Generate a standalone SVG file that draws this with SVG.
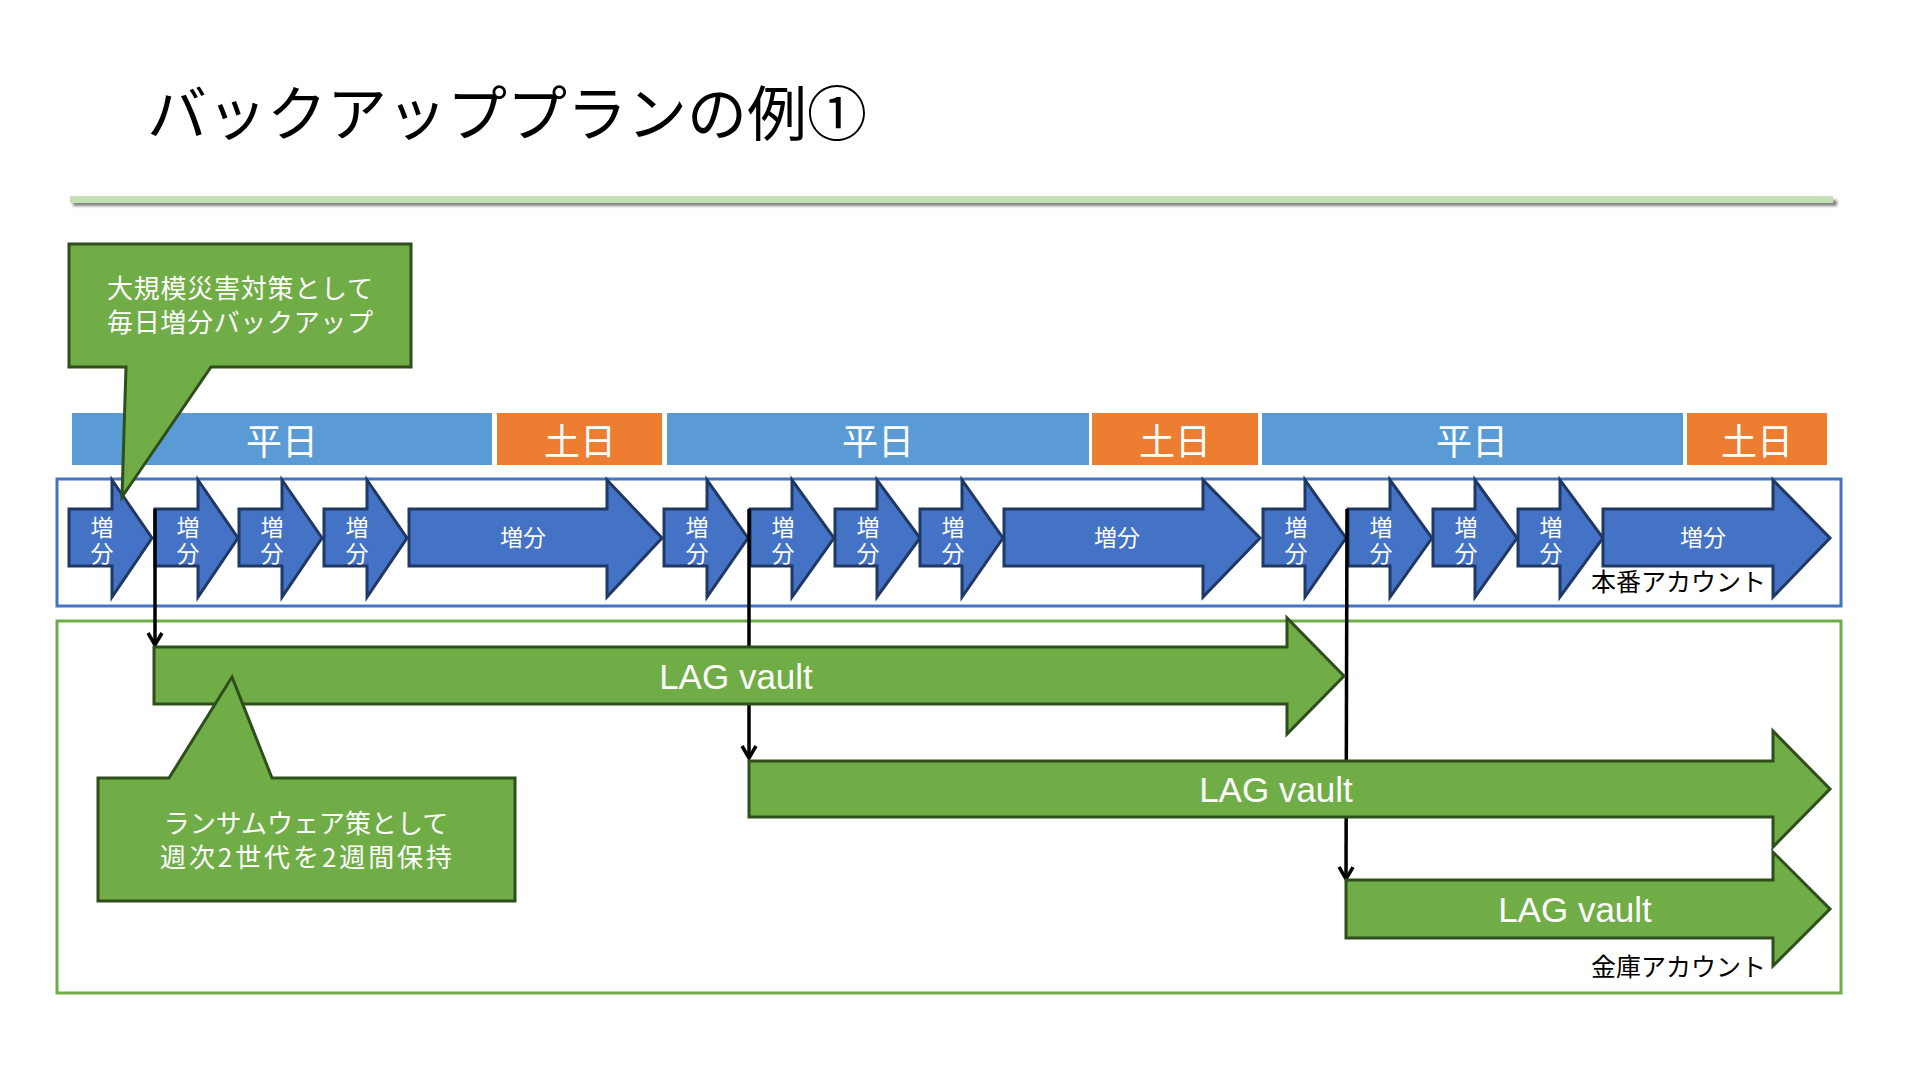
<svg xmlns="http://www.w3.org/2000/svg" width="1920" height="1080" viewBox="0 0 1920 1080">
<style>
.jp{font-family:"Noto Sans CJK JP","Noto Sans",sans-serif}
.en{font-family:"Liberation Sans",Arial,sans-serif}
.wk{fill:#5B9BD5}
.we{fill:#ED7D31}
.band{fill:#FFFFFF;font-size:36px;text-anchor:middle}
.inc{fill:#4472C4;stroke:#1F3864;stroke-width:3;stroke-linejoin:miter}
.inct{fill:#FFFFFF;font-size:23px;text-anchor:middle}
.vt{fill:#FFFFFF;font-size:23px;writing-mode:vertical-rl;letter-spacing:3px}
.lag{fill:#70AD47;stroke:#2E4E1C;stroke-width:3}
.lagt{fill:#FFFFFF;font-size:35px;text-anchor:middle}
.call{fill:#70AD47;stroke:#2E4E1C;stroke-width:3}
.callt{fill:#FFFFFF;font-size:26px;text-anchor:middle}
.conn{stroke:#000000;stroke-width:3.5;fill:none}
.acct{fill:#000000;font-size:25px;text-anchor:end}
</style>
<defs>
<marker id="open" markerUnits="userSpaceOnUse" markerWidth="18" markerHeight="20" refX="14" refY="9" orient="auto" viewBox="0 0 18 20">
<path d="M2,2 L14,9 L2,16" fill="none" stroke="#000000" stroke-width="3.5"/>
</marker>
<filter id="sh" x="-5%" y="-200%" width="110%" height="500%">
<feGaussianBlur stdDeviation="1.5"/>
</filter>
</defs>
<rect width="1920" height="1080" fill="#FFFFFF"/>

<g id="title">
<text class="jp" x="147" y="136" font-size="60" fill="#000000">バックアッププランの例①</text>
<rect x="73" y="200" width="1764" height="6" fill="#7F7F7F" filter="url(#sh)"/>
<rect x="70" y="196" width="1763" height="7" fill="#C5E0B4"/>
</g>

<g id="days">
<rect class="wk" x="72" y="413" width="420" height="52"/>
<text class="jp band" x="282" y="455">平日</text>
<rect class="we" x="497" y="413" width="165" height="52"/>
<text class="jp band" x="580" y="455">土日</text>
<rect class="wk" x="667" y="413" width="422" height="52"/>
<text class="jp band" x="878" y="455">平日</text>
<rect class="we" x="1092" y="413" width="166" height="52"/>
<text class="jp band" x="1175" y="455">土日</text>
<rect class="wk" x="1262" y="413" width="421" height="52"/>
<text class="jp band" x="1472" y="455">平日</text>
<rect class="we" x="1687" y="413" width="140" height="52"/>
<text class="jp band" x="1757" y="455">土日</text>
</g>

<g id="prod-account">
<rect x="57" y="479" width="1784" height="127" fill="none" stroke="#4472C4" stroke-width="3"/>
</g>
<g id="vault-account">
<rect x="57" y="621" width="1784" height="372" fill="none" stroke="#70AD47" stroke-width="3"/>
</g>

<g id="increments">
<g id="inc1"><polygon class="inc" points="69,509 112,509 112,480 152,538 112,597 112,566 69,566"/><text class="jp vt" x="102" y="516">増分</text></g>
<g id="inc2"><polygon class="inc" points="155,509 198,509 198,480 238,538 198,597 198,566 155,566"/><text class="jp vt" x="188" y="516">増分</text></g>
<g id="inc3"><polygon class="inc" points="239,509 282,509 282,480 322,538 282,597 282,566 239,566"/><text class="jp vt" x="272" y="516">増分</text></g>
<g id="inc4"><polygon class="inc" points="324,509 367,509 367,480 407,538 367,597 367,566 324,566"/><text class="jp vt" x="357" y="516">増分</text></g>
<g id="inc5"><polygon class="inc" points="409,509 607,509 607,480 662,538 607,597 607,566 409,566"/><text class="jp inct" x="523" y="546">増分</text></g>
<g id="inc6"><polygon class="inc" points="664,509 707,509 707,480 748,538 707,597 707,566 664,566"/><text class="jp vt" x="697" y="516">増分</text></g>
<g id="inc7"><polygon class="inc" points="750,509 792,509 792,480 834,538 792,597 792,566 750,566"/><text class="jp vt" x="783" y="516">増分</text></g>
<g id="inc8"><polygon class="inc" points="835,509 877,509 877,480 920,538 877,597 877,566 835,566"/><text class="jp vt" x="868" y="516">増分</text></g>
<g id="inc9"><polygon class="inc" points="920,509 962,509 962,480 1003,538 962,597 962,566 920,566"/><text class="jp vt" x="953" y="516">増分</text></g>
<g id="inc10"><polygon class="inc" points="1004,509 1203,509 1203,480 1260,538 1203,597 1203,566 1004,566"/><text class="jp inct" x="1117" y="546">増分</text></g>
<g id="inc11"><polygon class="inc" points="1263,509 1305,509 1305,480 1346,538 1305,597 1305,566 1263,566"/><text class="jp vt" x="1296" y="516">増分</text></g>
<g id="inc12"><polygon class="inc" points="1348,509 1390,509 1390,480 1432,538 1390,597 1390,566 1348,566"/><text class="jp vt" x="1381" y="516">増分</text></g>
<g id="inc13"><polygon class="inc" points="1433,509 1475,509 1475,480 1517,538 1475,597 1475,566 1433,566"/><text class="jp vt" x="1466" y="516">増分</text></g>
<g id="inc14"><polygon class="inc" points="1518,509 1560,509 1560,480 1603,538 1560,597 1560,566 1518,566"/><text class="jp vt" x="1551" y="516">増分</text></g>
<g id="inc15"><polygon class="inc" points="1603,509 1773,509 1773,480 1830,538 1773,597 1773,566 1603,566"/><text class="jp inct" x="1703" y="546">増分</text></g>
<text class="jp acct" x="1766" y="591">本番アカウント</text>
</g>

<g id="connectors">
<line class="conn" x1="155" y1="509" x2="155" y2="645" marker-end="url(#open)"/>
<line class="conn" x1="749" y1="509" x2="749" y2="758" marker-end="url(#open)"/>
<line class="conn" x1="1347" y1="509" x2="1346" y2="879" marker-end="url(#open)"/>
</g>

<g id="lag1"><polygon class="lag" points="154,647 1287,647 1287,618 1344,676 1287,734 1287,704 154,704"/><text class="en lagt" x="736" y="689">LAG vault</text></g>
<g id="lag2"><polygon class="lag" points="749,761 1773,761 1773,731 1830,789 1773,847 1773,817 749,817"/><text class="en lagt" x="1276" y="802">LAG vault</text></g>
<g id="lag3"><polygon class="lag" points="1346,880 1773,880 1773,852 1830,909 1773,966 1773,938 1346,938"/><text class="en lagt" x="1575" y="922">LAG vault</text></g>
<text class="jp acct" x="1766" y="976">金庫アカウント</text>

<g id="callout-disaster">
<path class="call" d="M69,244 H411 V367 H211 L122,497 L126,367 H69 Z"/>
<text class="jp callt" x="240" y="298" textLength="266" lengthAdjust="spacing">大規模災害対策として</text>
<text class="jp callt" x="240" y="332" textLength="266" lengthAdjust="spacing">毎日増分バックアップ</text>
</g>
<g id="callout-ransomware">
<path class="call" d="M98,778 H169 L232,677 L272,778 H515 V901 H98 Z"/>
<text class="jp callt" x="306" y="833">ランサムウェア策として<tspan x="306" y="867" textLength="292" lengthAdjust="spacing">週次2世代を2週間保持</tspan></text>
</g>
</svg>
